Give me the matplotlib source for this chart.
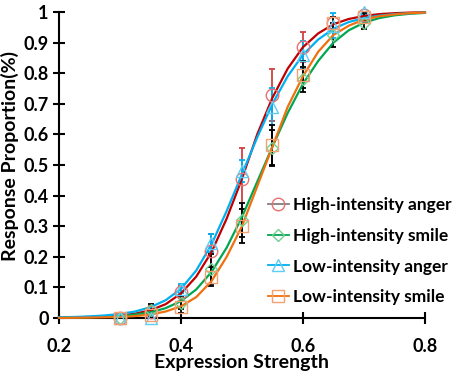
import matplotlib.pyplot as plt
from matplotlib.lines import Line2D

# measured points
x_pts = [0.30, 0.35, 0.40, 0.45, 0.50, 0.55, 0.60, 0.65, 0.70]
ha_pts = [0.000, 0.020, 0.085, 0.220, 0.455, 0.730, 0.885, 0.965, 0.990]
hs_pts = [0.000, 0.025, 0.050, 0.160, 0.320, 0.555, 0.780, 0.925, 0.965]
la_pts = [0.000, 0.000, 0.095, 0.245, 0.480, 0.690, 0.860, 0.955, 1.000]
ls_pts = [0.000, 0.010, 0.035, 0.135, 0.300, 0.565, 0.795, 0.965, 0.985]

ha_err = [0.005, 0.020, 0.020, 0.055, 0.100, 0.085, 0.050, 0.020, 0.010]
hs_err = [0.005, 0.020, 0.020, 0.050, 0.055, 0.060, 0.040, 0.040, 0.020]
la_err = [0.005, 0.010, 0.015, 0.030, 0.035, 0.060, 0.045, 0.040, 0.010]
ls_err = [0.005, 0.015, 0.020, 0.030, 0.055, 0.065, 0.045, 0.020, 0.010]

# fitted curves
x_fit = [0.200, 0.225, 0.250, 0.275, 0.300, 0.325, 0.350, 0.375, 0.400,
         0.425, 0.450, 0.475, 0.500, 0.525, 0.550, 0.575, 0.600, 0.625,
         0.650, 0.675, 0.700, 0.725, 0.750, 0.775, 0.800]
ha_fit = [0.001, 0.002, 0.003, 0.005, 0.008, 0.014, 0.025, 0.045, 0.080,
          0.135, 0.215, 0.325, 0.455, 0.600, 0.720, 0.815, 0.885, 0.930,
          0.960, 0.977, 0.987, 0.993, 0.996, 0.998, 0.999]
hs_fit = [0.001, 0.001, 0.002, 0.004, 0.006, 0.011, 0.018, 0.032, 0.055,
          0.093, 0.150, 0.230, 0.330, 0.445, 0.560, 0.670, 0.765, 0.840,
          0.900, 0.940, 0.965, 0.980, 0.989, 0.994, 0.997]
la_fit = [0.002, 0.003, 0.005, 0.008, 0.013, 0.021, 0.035, 0.058, 0.095,
          0.155, 0.240, 0.350, 0.470, 0.590, 0.700, 0.790, 0.860, 0.910,
          0.945, 0.967, 0.980, 0.988, 0.993, 0.996, 0.998]
ls_fit = [0.000, 0.0005, 0.001, 0.002, 0.003, 0.006, 0.011, 0.021, 0.038,
          0.068, 0.120, 0.200, 0.300, 0.430, 0.560, 0.690, 0.790, 0.870,
          0.925, 0.955, 0.975, 0.986, 0.992, 0.996, 0.998]

labels = ["High-intensity anger", "High-intensity smile",
          "Low-intensity anger", "Low-intensity smile"]

plt.rcParams['font.family'] = ['Lato', 'DejaVu Sans']
plt.rcParams['font.weight'] = 'bold'

fig = plt.figure(figsize=(4.54, 3.74), dpi=100)
ax = fig.add_axes([0.130, 0.150, 0.806, 0.818])

series = [
    (ha_pts, ha_err, ha_fit, "#C00000", "#E87070", "o", "#D04040"),
    (hs_pts, hs_err, hs_fit, "#00A651", "#70D090", "D", "black"),
    (la_pts, la_err, la_fit, "#00B0F0", "#60CCF4", "^", "#00B0F0"),
    (ls_pts, ls_err, ls_fit, "#F07010", "#F4A070", "s", "black"),
]

for pts, err, fit, lc, mc, mk, ec in series:
    ax.errorbar(x_pts, pts, yerr=err, fmt="none", ecolor=ec, elinewidth=1.3,
                capsize=2.5, capthick=1.3, zorder=2)
for pts, err, fit, lc, mc, mk, ec in series:
    ax.plot(x_fit, fit, color=lc, lw=1.6, zorder=3, clip_on=False)
for pts, err, fit, lc, mc, mk, ec in series:
    ms = 6 if mk == "D" else 9
    ax.plot(x_pts, pts, ls="none", marker=mk, ms=ms, mfc="none", mec=mc,
            mew=1.0, zorder=4, clip_on=False)

ax.set_xlim(0.2, 0.8)
ax.set_ylim(0, 1)
ax.set_xticks([0.2, 0.4, 0.6, 0.8])
ax.set_xticklabels(["0.2", "0.4", "0.6", "0.8"])
ax.set_yticks([i / 10 for i in range(11)])
ax.set_yticklabels(["0"] + ["0.%d" % i for i in range(1, 10)] + ["1"])
ax.spines['top'].set_visible(False)
ax.spines['right'].set_visible(False)
for s in ['left', 'bottom']:
    ax.spines[s].set_linewidth(1.5)
ax.tick_params(axis='both', direction='inout', length=9, width=1.5,
               labelsize=13)
ax.tick_params(axis='x', pad=10)
ax.tick_params(axis='y', pad=3)
for t in ax.get_xticklabels() + ax.get_yticklabels():
    t.set_fontweight('bold')

ax.set_xlabel("Expression Strength", fontsize=14, fontweight='bold', labelpad=-1)
ax.set_ylabel("Response Proportion(%)", fontsize=14, fontweight='bold')
ax.yaxis.set_label_coords(-0.11, 0.53)

handles = [
    Line2D([], [], color="#808080", lw=1.3, marker="o", ms=9, mfc="none", mec="#E87070"),
    Line2D([], [], color="#00A651", lw=1.3, marker="D", ms=6, mfc="none", mec="#70D090"),
    Line2D([], [], color="#00B0F0", lw=1.3, marker="^", ms=9, mfc="none", mec="#60CCF4"),
    Line2D([], [], color="#F07010", lw=1.3, marker="s", ms=9, mfc="none", mec="#F4A070"),
]
leg = ax.legend(handles, labels, loc="upper left", bbox_to_anchor=(0.57, 0.395),
                frameon=False, handlelength=1.25, handletextpad=0.2,
                labelspacing=0.85, borderaxespad=0, borderpad=0,
                prop={'size': 12.5, 'weight': 'bold'})

fig.savefig("out.png", dpi=100)
